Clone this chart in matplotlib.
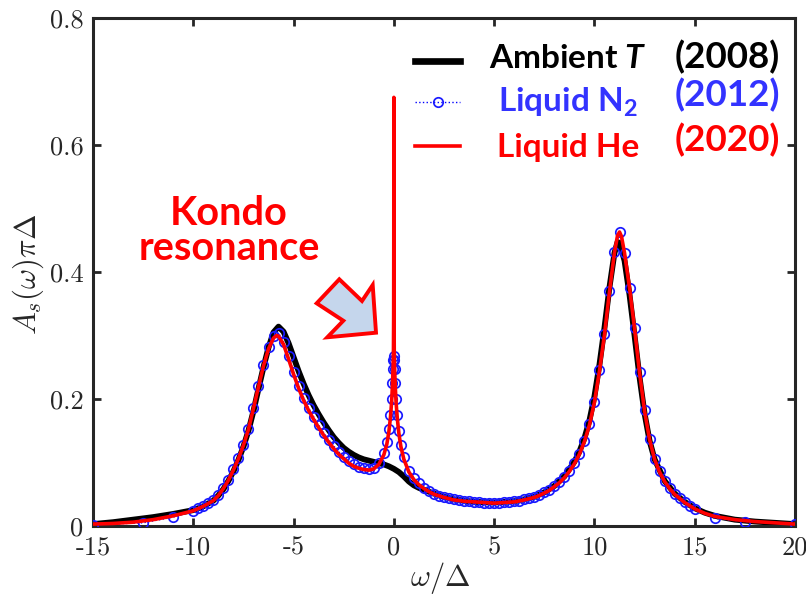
import matplotlib
matplotlib.use("Agg")
import matplotlib.pyplot as plt
from matplotlib.lines import Line2D
from matplotlib.patches import Polygon

plt.rcParams['axes.unicode_minus'] = False
plt.rcParams['mathtext.fontset'] = 'cm'
plt.rcParams['mathtext.bf'] = 'Lato:bold'
plt.rcParams['mathtext.it'] = 'Lato:italic:bold'
plt.rcParams['mathtext.rm'] = 'Lato:bold'

# ---------------- data ----------------
w_amb = [-15, -14, -13, -12, -11, -10, -9.5, -9.0, -8.75, -8.5, -8.25, -8.0, -7.75, -7.5, -7.25,
         -7.0, -6.75, -6.5, -6.25, -6.0, -5.75, -5.5, -5.25, -5.0, -4.75, -4.5, -4.25, -4.0,
         -3.75, -3.5, -3.25, -3.0, -2.75, -2.5, -2.25, -2.0, -1.75, -1.5, -1.25, -1.0, -0.75,
         -0.5, -0.25, 0.0, 0.25, 0.5, 0.75, 1.0, 1.25, 1.5, 2.0, 2.5, 3.0, 4.0, 5.0, 6.0, 6.5,
         7.0, 7.5, 8.0, 8.5, 9.0, 9.25, 9.5, 9.75, 10.0, 10.25, 10.5, 10.75, 11.0, 11.15, 11.25,
         11.5, 11.75, 12.0, 12.25, 12.5, 12.75, 13.0, 13.5, 14.0, 14.5, 15.0, 15.5, 16.0, 17.0,
         18.0, 19.0, 20.0]
a_amb = [0.003, 0.006, 0.010, 0.014, 0.019, 0.025, 0.031, 0.040, 0.048, 0.058, 0.071, 0.086,
         0.104, 0.125, 0.150, 0.181, 0.216, 0.250, 0.281, 0.305, 0.314, 0.306, 0.288, 0.266,
         0.244, 0.224, 0.206, 0.190, 0.176, 0.163, 0.151, 0.140, 0.131, 0.123, 0.117, 0.112,
         0.108, 0.105, 0.103, 0.101, 0.099, 0.097, 0.094, 0.090, 0.085, 0.078, 0.070, 0.064,
         0.060, 0.057, 0.051, 0.046, 0.042, 0.038, 0.037, 0.039, 0.042, 0.046, 0.053, 0.063,
         0.078, 0.101, 0.117, 0.138, 0.166, 0.204, 0.254, 0.312, 0.376, 0.430, 0.447, 0.446,
         0.418, 0.364, 0.300, 0.234, 0.177, 0.134, 0.105, 0.071, 0.051, 0.038, 0.028, 0.021,
         0.016, 0.010, 0.007, 0.005, 0.003]

w_n2 = [-15, -12.5, -11, -10, -9.75, -9.5, -9.25, -9.0, -8.75, -8.5, -8.25, -8.0, -7.75, -7.5,
        -7.25, -7.0, -6.75, -6.5, -6.25, -6.0, -5.75, -5.5, -5.25, -5.0, -4.75, -4.5, -4.25,
        -4.0, -3.75, -3.5, -3.25, -3.0, -2.75, -2.5, -2.25, -2.0, -1.75, -1.5, -1.25, -1.0,
        -0.75, -0.5, -0.35, -0.25, -0.17, -0.11, -0.07, -0.04, -0.02, 0.0, 0.02, 0.04, 0.07,
        0.11, 0.17, 0.25, 0.35, 0.5, 0.75, 1.0, 1.25, 1.5, 1.75, 2.0, 2.25, 2.5, 2.75, 3.0,
        3.25, 3.5, 3.75, 4.0, 4.25, 4.5, 4.75, 5.0, 5.25, 5.5, 5.75, 6.0, 6.25, 6.5, 6.75,
        7.0, 7.25, 7.5, 7.75, 8.0, 8.25, 8.5, 8.75, 9.0, 9.25, 9.5, 9.75, 10.0, 10.25, 10.5,
        10.75, 11.0, 11.25, 11.5, 11.75, 12.0, 12.25, 12.5, 12.75, 13.0, 13.25, 13.5, 13.75,
        14.0, 14.25, 14.5, 14.75, 15.0, 16.0, 17.5, 20.0]
a_n2 = [0.002, 0.005, 0.014, 0.024, 0.028, 0.032, 0.036, 0.041, 0.049, 0.060, 0.073, 0.089,
        0.107, 0.128, 0.153, 0.186, 0.221, 0.254, 0.282, 0.300, 0.304, 0.290, 0.267, 0.243,
        0.221, 0.202, 0.186, 0.172, 0.159, 0.147, 0.136, 0.126, 0.117, 0.109, 0.102, 0.097,
        0.093, 0.091, 0.090, 0.092, 0.099, 0.115, 0.132, 0.152, 0.175, 0.200, 0.225, 0.248,
        0.262, 0.268, 0.262, 0.248, 0.225, 0.200, 0.175, 0.150, 0.128, 0.108, 0.087, 0.075,
        0.067, 0.060, 0.055, 0.051, 0.048, 0.046, 0.044, 0.042, 0.041, 0.040, 0.039, 0.038,
        0.038, 0.037, 0.037, 0.037, 0.037, 0.038, 0.038, 0.039, 0.040, 0.042, 0.044, 0.046,
        0.049, 0.053, 0.057, 0.063, 0.069, 0.077, 0.087, 0.099, 0.114, 0.134, 0.160, 0.196,
        0.245, 0.302, 0.370, 0.432, 0.463, 0.430, 0.375, 0.312, 0.242, 0.182, 0.137, 0.106,
        0.086, 0.071, 0.060, 0.051, 0.044, 0.038, 0.032, 0.027, 0.012, 0.007, 0.003]

w_he = [-15, -14, -13, -12, -11, -10, -9.5, -9.0, -8.75, -8.5, -8.25, -8.0, -7.75, -7.5, -7.25,
        -7.0, -6.75, -6.5, -6.25, -6.0, -5.85, -5.75, -5.5, -5.25, -5.0, -4.75, -4.5, -4.25,
        -4.0, -3.75, -3.5, -3.25, -3.0, -2.75, -2.5, -2.25, -2.0, -1.75, -1.5, -1.25, -1.0,
        -0.75, -0.5, -0.35, -0.25, -0.17, -0.11, -0.07, -0.04, -0.02, -0.01, -0.004, 0.0,
        0.004, 0.01, 0.02, 0.04, 0.07, 0.11, 0.17, 0.25, 0.35, 0.5, 0.75, 1.0, 1.25, 1.5,
        1.75, 2.0, 2.5, 3.0, 3.5, 4.0, 4.5, 5.0, 5.5, 6.0, 6.5, 7.0, 7.25, 7.5, 7.75, 8.0,
        8.25, 8.5, 8.75, 9.0, 9.25, 9.5, 9.75, 10.0, 10.25, 10.5, 10.75, 11.0, 11.15, 11.25,
        11.35, 11.5, 11.75, 12.0, 12.25, 12.5, 12.75, 13.0, 13.25, 13.5, 13.75, 14.0, 14.5,
        15.0, 15.5, 16.0, 17.0, 18.0, 19.0, 20.0]
a_he = [0.003, 0.004, 0.006, 0.010, 0.016, 0.024, 0.031, 0.040, 0.048, 0.059, 0.072, 0.088,
        0.106, 0.127, 0.152, 0.185, 0.219, 0.252, 0.279, 0.296, 0.300, 0.299, 0.286, 0.263,
        0.239, 0.217, 0.198, 0.182, 0.168, 0.155, 0.143, 0.132, 0.122, 0.113, 0.106, 0.099,
        0.094, 0.091, 0.089, 0.088, 0.090, 0.097, 0.112, 0.129, 0.148, 0.171, 0.196, 0.222,
        0.248, 0.275, 0.330, 0.450, 0.675, 0.450, 0.330, 0.275, 0.246, 0.220, 0.195, 0.170,
        0.146, 0.125, 0.105, 0.085, 0.073, 0.065, 0.059, 0.054, 0.050, 0.045, 0.041, 0.039,
        0.038, 0.037, 0.036, 0.037, 0.038, 0.041, 0.045, 0.048, 0.052, 0.056, 0.062, 0.068,
        0.076, 0.086, 0.098, 0.113, 0.133, 0.159, 0.195, 0.244, 0.301, 0.369, 0.431, 0.457,
        0.463, 0.456, 0.430, 0.375, 0.311, 0.241, 0.181, 0.136, 0.105, 0.085, 0.070, 0.059,
        0.050, 0.037, 0.027, 0.020, 0.015, 0.010, 0.007, 0.005, 0.003]

x_ticks = [-15, -10, -5, 0, 5, 10, 15, 20]
x_ticklabels = ['-15', '-10', '-5', '0', '5', '10', '15', '20']
y_ticks = [0, 0.2, 0.4, 0.6, 0.8]
y_ticklabels = ['0', '0.2', '0.4', '0.6', '0.8']

labels = ['Ambient $T$', 'Liquid N$_\\mathbf{2}$', 'Liquid He']
years = ['(2008)', '(2012)', '(2020)']
colors = ['black', '#3333ff', '#ff0000']

# ---------------- figure ----------------
W, H = 806, 598
fig = plt.figure(figsize=(W / 100, H / 100), dpi=100)
ax = fig.add_axes([93 / W, 72 / H, 702 / W, 508 / H])

ax.plot(w_amb, a_amb, color='black', lw=4.2, solid_capstyle='round', zorder=2)
ax.plot(w_n2, a_n2, color='blue', lw=1.0, ls=':', marker='o', ms=6.8,
        mfc='none', mec='#1a1aff', mew=1.25, zorder=3)
ax.plot(w_he, a_he, color='red', lw=2.6, zorder=4)

ax.set_xlim(-15, 20)
ax.set_ylim(0, 0.8)
ax.set_xticks(x_ticks, labels=x_ticklabels)
ax.set_yticks(y_ticks, labels=y_ticklabels)
for lab in ax.get_xticklabels() + ax.get_yticklabels():
    lab.set_fontfamily('cmr10')
    lab.set_fontsize(19)
    lab.set_color('#262626')
ax.tick_params(direction='in', length=6, width=2, color='#262626',
               top=True, right=True, pad=7)
for sp in ax.spines.values():
    sp.set_linewidth(2.2)
    sp.set_color('#262626')

fig.text(440 / W, 1 - 578 / H, r'$\omega/\Delta$', fontsize=22, ha='center', va='center',
         color='#262626')
fig.text(28 / W, 1 - 274 / H, r'$A_s(\omega)\pi\Delta$', fontsize=22, rotation=90,
         ha='center', va='center', color='#262626')

# legend (manual)
rows_y = [61, 102, 146]
label_base = [67.5, 112.0, 157.0]
year_base = [68.0, 106.0, 151.0]
for i in range(3):
    fy = 1 - rows_y[i] / H
    if i == 0:
        h = Line2D([415 / W, 460 / W], [fy, fy], color='black', lw=4.8,
                   transform=fig.transFigure)
        fig.add_artist(h)
    elif i == 1:
        h = Line2D([415 / W, 460 / W], [fy, fy], color='blue', lw=1.0, ls=':',
                   transform=fig.transFigure)
        fig.add_artist(h)
        m = Line2D([438 / W], [fy], color='#1a1aff', marker='o', ms=6.8, mfc='none',
                   mew=1.25, transform=fig.transFigure)
        fig.add_artist(m)
    else:
        h = Line2D([415 / W, 460 / W], [fy, fy], color='red', lw=2.6,
                   transform=fig.transFigure)
        fig.add_artist(h)
    fig.text(568 / W, 1 - label_base[i] / H, labels[i], fontsize=24, family='Lato',
             weight='bold', color=colors[i], ha='center', va='baseline',
             math_fontfamily='custom')
    fig.text(727 / W, 1 - year_base[i] / H, years[i], fontsize=26.5, family='Lato',
             weight='bold', color=colors[i], ha='center', va='baseline')

# annotation
fig.text(229 / W, 1 - 225 / H, 'Kondo', fontsize=28.5, family='Lato', weight='bold',
         color='red', ha='center', va='baseline')
fig.text(229 / W, 1 - 260 / H, 'resonance', fontsize=28.5, family='Lato', weight='bold',
         color='red', ha='center', va='baseline')

arrow_px = [(316.7, 303.3), (339.3, 279.3), (362.0, 301.0), (372.7, 285.0),
            (376.0, 332.7), (327.3, 337.3), (343.3, 320.7)]
poly = Polygon([(x / W, 1 - y / H) for x, y in arrow_px], closed=True,
               facecolor='#c5d6ec', edgecolor='red', lw=2.8, joinstyle='miter',
               transform=fig.transFigure)
fig.add_artist(poly)

fig.savefig('out.png', dpi=100)
